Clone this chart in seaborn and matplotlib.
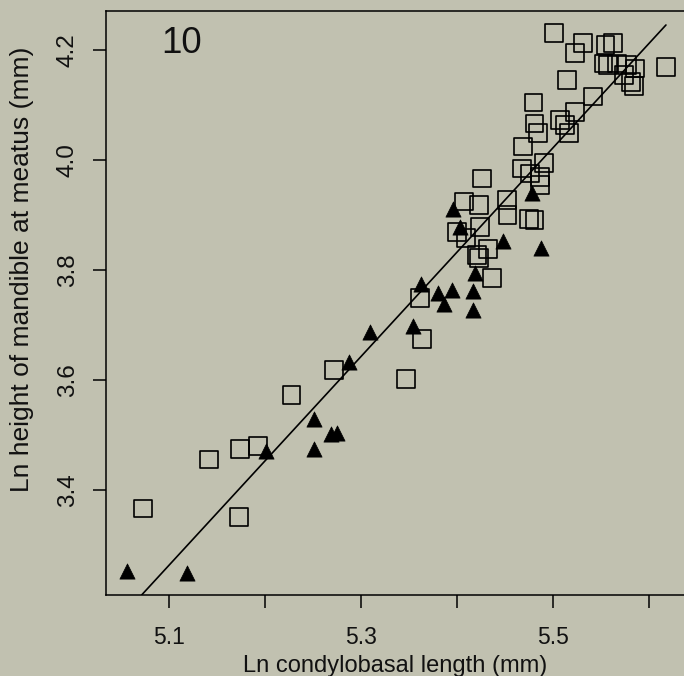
import matplotlib
matplotlib.use("Agg")
import matplotlib.pyplot as plt
import seaborn as sns
import pandas as pd

# ---- data ----
square_x = [5.073, 5.142, 5.174, 5.193, 5.173, 5.228, 5.272, 5.347, 5.364, 5.362,
            5.437, 5.421, 5.423, 5.426, 5.408, 5.423, 5.410, 5.424, 5.433, 5.400,
            5.452, 5.453, 5.475, 5.481, 5.468, 5.491, 5.487, 5.487, 5.476,
            5.501, 5.523, 5.532, 5.555, 5.563, 5.553, 5.558, 5.567, 5.577, 5.586,
            5.574, 5.582, 5.585, 5.618, 5.515, 5.542, 5.480, 5.523, 5.481, 5.508,
            5.513, 5.517, 5.485, 5.469]
square_y = [3.367, 3.456, 3.475, 3.481, 3.352, 3.574, 3.619, 3.602, 3.675, 3.750,
            3.786, 3.828, 3.822, 3.967, 3.925, 3.919, 3.858, 3.878, 3.839, 3.870,
            3.928, 3.901, 3.893, 3.891, 3.985, 3.995, 3.955, 3.970, 3.976,
            4.232, 4.195, 4.213, 4.210, 4.213, 4.176, 4.173, 4.176, 4.173, 4.167,
            4.155, 4.143, 4.135, 4.169, 4.146, 4.116, 4.105, 4.088, 4.067, 4.073,
            4.064, 4.049, 4.049, 4.025]

triangle_x = [5.057, 5.119, 5.201, 5.251, 5.251, 5.269, 5.275, 5.288, 5.310, 5.355,
              5.363, 5.381, 5.395, 5.387, 5.417, 5.417, 5.419, 5.448, 5.488, 5.396,
              5.403, 5.478]
triangle_y = [3.254, 3.249, 3.472, 3.530, 3.475, 3.502, 3.505, 3.633, 3.688, 3.699,
              3.775, 3.759, 3.764, 3.738, 3.763, 3.728, 3.796, 3.854, 3.841, 3.911,
              3.879, 3.940]

fit_x = [5.072, 5.618]
fit_y = [3.210, 4.246]

x_ticks = [5.1, 5.2, 5.3, 5.4, 5.5, 5.6]
x_tick_labels = ["5.1", "", "5.3", "", "5.5", ""]
y_ticks = [3.4, 3.6, 3.8, 4.0, 4.2]
y_tick_labels = ["3.4", "3.6", "3.8", "4.0", "4.2"]

panel_label = "10"
x_label = "Ln condylobasal length (mm)"
y_label = "Ln height of mandible at meatus (mm)"

# ---- styling ----
bg = "#c1c1b0"
sns.set_style("ticks")
plt.rcParams["font.family"] = ["Liberation Sans", "DejaVu Sans"]

squares = pd.DataFrame({"x": square_x, "y": square_y})
triangles = pd.DataFrame({"x": triangle_x, "y": triangle_y})
fit = pd.DataFrame({"x": fit_x, "y": fit_y})

W, H = 684, 676
fig = plt.figure(figsize=(W / 100, H / 100), dpi=100, facecolor=bg)
left_px, right_px, top_px, bottom_px = 106, 684, 11.3, 594.7
ax = fig.add_axes([left_px / W, (H - bottom_px) / H,
                   (right_px - left_px) / W, (bottom_px - top_px) / H])
ax.set_facecolor(bg)

sns.scatterplot(data=squares, x="x", y="y", marker="s", s=165,
                color="black", facecolor="none", edgecolor="black",
                linewidth=1.2, ax=ax, zorder=3)
sns.scatterplot(data=triangles, x="x", y="y", marker="^", s=120,
                color="black", edgecolor="black", linewidth=0.5,
                ax=ax, zorder=4)
sns.lineplot(data=fit, x="x", y="y", color="black", linewidth=1.2,
             ax=ax, zorder=5)

ax.set_xlim(5.0347, 5.6368)
ax.set_ylim(3.2102, 4.2709)

ax.set_xticks(x_ticks)
ax.set_xticklabels(x_tick_labels, fontsize=16.5)
ax.set_yticks(y_ticks)
ax.set_yticklabels(y_tick_labels, fontsize=17.5)

ax.tick_params(axis="both", direction="out", length=9.5, width=1.1,
               color="black", labelcolor="#111111")
ax.tick_params(axis="x", pad=13)
ax.tick_params(axis="y", pad=10, labelrotation=90)
for lbl in ax.get_yticklabels():
    lbl.set_va("center")

for side in ["left", "bottom", "top"]:
    ax.spines[side].set_visible(True)
    ax.spines[side].set_linewidth(1.1)
    ax.spines[side].set_color("black")
ax.spines["right"].set_visible(False)

ax.set_xlabel(x_label, fontsize=17, color="#111111")
ax.xaxis.set_label_coords(0.5, -0.104)
ax.xaxis.label.set_va("top")
ax.set_ylabel(y_label, fontsize=19, color="#111111")
ax.yaxis.label.set_va("center")
ax.yaxis.set_label_coords((22.5 - left_px) / (right_px - left_px),
                          (bottom_px - 269) / (bottom_px - top_px))

ax.text(55.7 / (right_px - left_px), (bottom_px - 53.3) / (bottom_px - top_px),
        panel_label, transform=ax.transAxes, fontsize=26.5,
        ha="left", va="baseline", color="#111111")

fig.savefig("out.png", dpi=100, facecolor=bg)
